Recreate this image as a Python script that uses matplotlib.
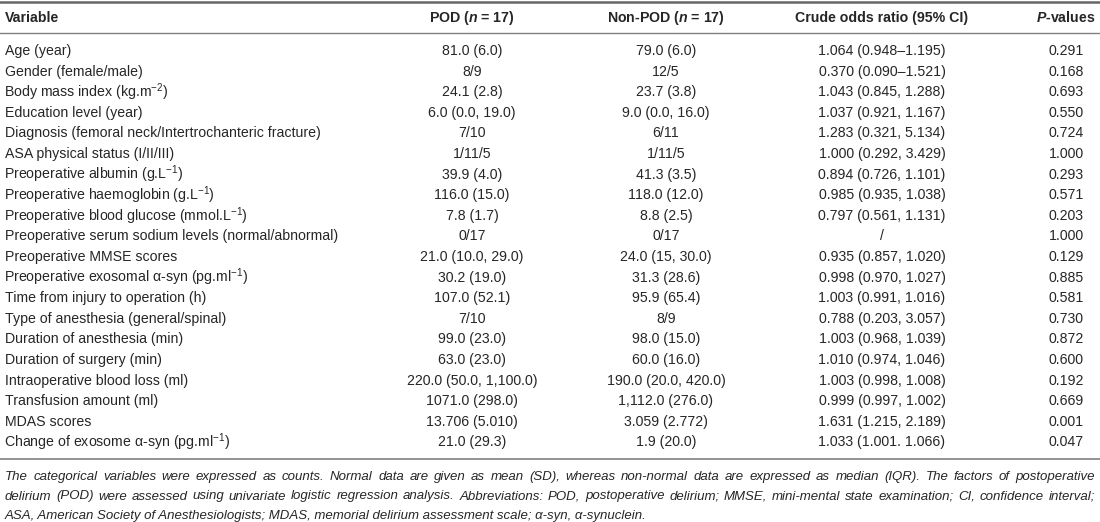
import matplotlib
matplotlib.use('Agg')
import matplotlib.pyplot as plt

# ── fonts ──
plt.rcParams['font.family'] = ['Liberation Sans', 'DejaVu Sans']
plt.rcParams['mathtext.fontset'] = 'custom'
plt.rcParams['mathtext.rm'] = 'Liberation Sans'
plt.rcParams['mathtext.it'] = 'Liberation Sans:italic'
plt.rcParams['mathtext.bf'] = 'Liberation Sans:bold'
plt.rcParams['mathtext.bfit'] = 'Liberation Sans:italic:bold'

# ── table content ──
headers = ['Variable', r'POD ($\mathbfit{n}$ = 17)', r'Non-POD ($\mathbfit{n}$ = 17)',
           'Crude odds ratio (95% CI)', r'$\mathbfit{P}$-values']

variables = [
    'Age (year)',
    'Gender (female/male)',
    r'Body mass index (kg.m$^{-2}$)',
    'Education level (year)',
    'Diagnosis (femoral neck/Intertrochanteric fracture)',
    'ASA physical status (I/II/III)',
    r'Preoperative albumin (g.L$^{-1}$)',
    r'Preoperative haemoglobin (g.L$^{-1}$)',
    r'Preoperative blood glucose (mmol.L$^{-1}$)',
    'Preoperative serum sodium levels (normal/abnormal)',
    'Preoperative MMSE scores',
    r'Preoperative exosomal α-syn (pg.ml$^{-1}$)',
    'Time from injury to operation (h)',
    'Type of anesthesia (general/spinal)',
    'Duration of anesthesia (min)',
    'Duration of surgery (min)',
    'Intraoperative blood loss (ml)',
    'Transfusion amount (ml)',
    'MDAS scores',
    r'Change of exosome α-syn (pg.ml$^{-1}$)',
]

pod = ['81.0 (6.0)', '8/9', '24.1 (2.8)', '6.0 (0.0, 19.0)', '7/10', '1/11/5',
       '39.9 (4.0)', '116.0 (15.0)', '7.8 (1.7)', '0/17', '21.0 (10.0, 29.0)',
       '30.2 (19.0)', '107.0 (52.1)', '7/10', '99.0 (23.0)', '63.0 (23.0)',
       '220.0 (50.0, 1,100.0)', '1071.0 (298.0)', '13.706 (5.010)', '21.0 (29.3)']

non_pod = ['79.0 (6.0)', '12/5', '23.7 (3.8)', '9.0 (0.0, 16.0)', '6/11', '1/11/5',
           '41.3 (3.5)', '118.0 (12.0)', '8.8 (2.5)', '0/17', '24.0 (15, 30.0)',
           '31.3 (28.6)', '95.9 (65.4)', '8/9', '98.0 (15.0)', '60.0 (16.0)',
           '190.0 (20.0, 420.0)', '1,112.0 (276.0)', '3.059 (2.772)', '1.9 (20.0)']

odds_ratio = ['1.064 (0.948–1.195)', '0.370 (0.090–1.521)', '1.043 (0.845, 1.288)',
              '1.037 (0.921, 1.167)', '1.283 (0.321, 5.134)', '1.000 (0.292, 3.429)',
              '0.894 (0.726, 1.101)', '0.985 (0.935, 1.038)', '0.797 (0.561, 1.131)',
              '/', '0.935 (0.857, 1.020)', '0.998 (0.970, 1.027)',
              '1.003 (0.991, 1.016)', '0.788 (0.203, 3.057)', '1.003 (0.968, 1.039)',
              '1.010 (0.974, 1.046)', '1.003 (0.998, 1.008)', '0.999 (0.997, 1.002)',
              '1.631 (1.215, 2.189)', '1.033 (1.001. 1.066)']

p_values = ['0.291', '0.168', '0.693', '0.550', '0.724', '1.000', '0.293', '0.571',
            '0.203', '1.000', '0.129', '0.885', '0.581', '0.730', '0.872', '0.600',
            '0.192', '0.669', '0.001', '0.047']

footnote = [
    'The categorical variables were expressed as counts. Normal data are given as mean (SD), '
    'whereas non-normal data are expressed as median (IQR). The factors of postoperative',
    'delirium (POD) were assessed using univariate logistic regression analysis. Abbreviations: '
    'POD, postoperative delirium; MMSE, mini-mental state examination; CI, confidence interval;',
    'ASA, American Society of Anesthesiologists; MDAS, memorial delirium assessment scale; '
    'α-syn, α-synuclein.',
]

# ── layout (pixel units) ──
W, H = 1100, 522
X_LEFT, X_RIGHT = 5, 1095
COL_X = [5, 472, 666, 882, 1066]
Y_TOP_RULE, Y_HEADER, Y_HEAD_RULE = 1.5, 18, 33
Y_ROW0, ROW_STEP = 51, 20.6
Y_BOTTOM_RULE = 459
Y_FOOT0, FOOT_STEP = 480, 19.5   # baselines
TXT = '#262626'
RULE = '#808080'
FS = 10.2
FS_FOOT = 9.5

fig = plt.figure(figsize=(W / 100, H / 100), dpi=100)
ax = fig.add_axes([0, 0, 1, 1])
ax.set_xlim(0, W)
ax.set_ylim(H, 0)
ax.axis('off')

# rules
ax.plot([0, W], [Y_TOP_RULE, Y_TOP_RULE], color='#666666', lw=1.8)
ax.plot([0, W], [Y_HEAD_RULE, Y_HEAD_RULE], color=RULE, lw=1.0)
ax.plot([0, W], [Y_BOTTOM_RULE, Y_BOTTOM_RULE], color=RULE, lw=1.2)

# header
for j, h in enumerate(headers):
    ax.text(COL_X[j], Y_HEADER, h, ha='left' if j == 0 else 'center', va='center',
            fontsize=FS, fontweight='bold', color=TXT)

# body
columns = [variables, pod, non_pod, odds_ratio, p_values]
for j, col in enumerate(columns):
    for i, val in enumerate(col):
        x = COL_X[j] - (1 if (j == 0 and '$' in val) else 0)
        ax.text(x, Y_ROW0 + i * ROW_STEP, val,
                ha='left' if j == 0 else 'center', va='center',
                fontsize=FS, color=TXT)

# footnote, justified except last line
fig.canvas.draw()
renderer = fig.canvas.get_renderer()


def text_width(s):
    t = ax.text(0, 0, s, fontsize=FS_FOOT, style='italic')
    w = t.get_window_extent(renderer).width
    t.remove()
    return w


for k, line in enumerate(footnote):
    y = Y_FOOT0 + k * FOOT_STEP
    words = line.split(' ')
    if k == len(footnote) - 1:
        ax.text(X_LEFT, y, line, ha='left', va='baseline', fontsize=FS_FOOT,
                style='italic', color=TXT)
        continue
    widths = [text_width(w) for w in words]
    gap = (X_RIGHT - X_LEFT - sum(widths)) / (len(words) - 1)
    x = X_LEFT
    for w, wd in zip(words, widths):
        ax.text(x, y, w, ha='left', va='baseline', fontsize=FS_FOOT,
                style='italic', color=TXT)
        x += wd + gap

fig.savefig('out.png', dpi=100)
